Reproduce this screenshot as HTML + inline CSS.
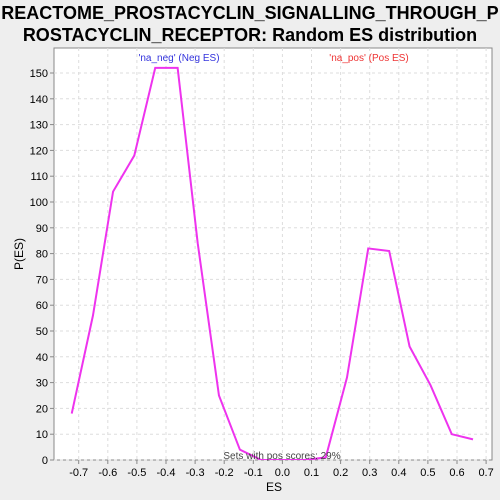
<!DOCTYPE html>
<html><head><meta charset="utf-8"><style>
body{margin:0;background:#eeeeee;font-family:"Liberation Sans",sans-serif;}
svg{display:block}
</style></head><body>
<svg width="500" height="500">
<defs><clipPath id="clip"><rect x="54" y="48" width="438" height="412"/></clipPath></defs>
<rect x="0" y="0" width="500" height="500" fill="#eeeeee"/>
<text x="250" y="19" text-anchor="middle" font-size="18" font-weight="bold">REACTOME_PROSTACYCLIN_SIGNALLING_THROUGH_P</text>
<text x="250" y="41" text-anchor="middle" font-size="18" font-weight="bold">ROSTACYCLIN_RECEPTOR: Random ES distribution</text>
<rect x="54" y="48" width="438" height="412" fill="#fff" stroke="#888"/>
<g id="grid"></g><g id="axes"></g>
<polyline id="line" fill="none" stroke="#ee33ee" stroke-width="2" clip-path="url(#clip)"/>
<text x="179" y="61" text-anchor="middle" font-size="10" fill="#3333dd">'na_neg' (Neg ES)</text>
<text x="369" y="61" text-anchor="middle" font-size="10" fill="#ee3333">'na_pos' (Pos ES)</text>
<text x="282" y="459" text-anchor="middle" font-size="10" fill="#444">Sets with pos scores: 29%</text>
<text x="274" y="491" text-anchor="middle" font-size="12">ES</text>
<text x="23" y="254" text-anchor="middle" font-size="12" transform="rotate(-90 23 254)">P(ES)</text>
</svg>
<script>
const esValues=[-0.724,-0.651,-0.582,-0.509,-0.437,-0.360,-0.291,-0.218,-0.146,-0.073,0,0.076,0.149,0.222,0.295,0.367,0.437,0.509,0.582,0.655];
const pValues=[18,56,104,118,152,152,84,25,4,0,0,0,1,32,82,81,44,29,10,8];
const xTicks=[-0.7,-0.6,-0.5,-0.4,-0.3,-0.2,-0.1,0,0.1,0.2,0.3,0.4,0.5,0.6,0.7];
const yTicks=[0,10,20,30,40,50,60,70,80,90,100,110,120,130,140,150];
const X=v=>282.4+v*291;
const Y=v=>460-v*2.58;
const ns="http://www.w3.org/2000/svg";
const grid=document.getElementById('grid'),axes=document.getElementById('axes');
function mk(tag,attrs,parent){const e=document.createElementNS(ns,tag);for(const k in attrs)e.setAttribute(k,attrs[k]);parent.appendChild(e);return e;}
xTicks.forEach(t=>{const x=X(t);
const g=mk('line',{x1:x,x2:x,y1:48,y2:460,stroke:'#ddd','stroke-dasharray':'3,3'},grid);


mk('line',{x1:x,x2:x,y1:460,y2:464,stroke:'#888'},axes);
const tx=mk('text',{x:x,y:476,'text-anchor':'middle','font-size':'11'},axes);tx.textContent=t.toFixed(1);

});
yTicks.forEach(t=>{const y=Y(t);
const g=mk('line',{x1:54,x2:492,y1:y,y2:y,stroke:'#ddd','stroke-dasharray':'3,3'},grid);


mk('line',{x1:50,x2:54,y1:y,y2:y,stroke:'#888'},axes);
const tx=mk('text',{x:48,y:y+4,'text-anchor':'end','font-size':'11'},axes);tx.textContent=t;

});
document.getElementById('line').setAttribute('points',esValues.map((v,i)=>X(v)+','+Y(pValues[i])).join(' '));
</script>
</body></html>
